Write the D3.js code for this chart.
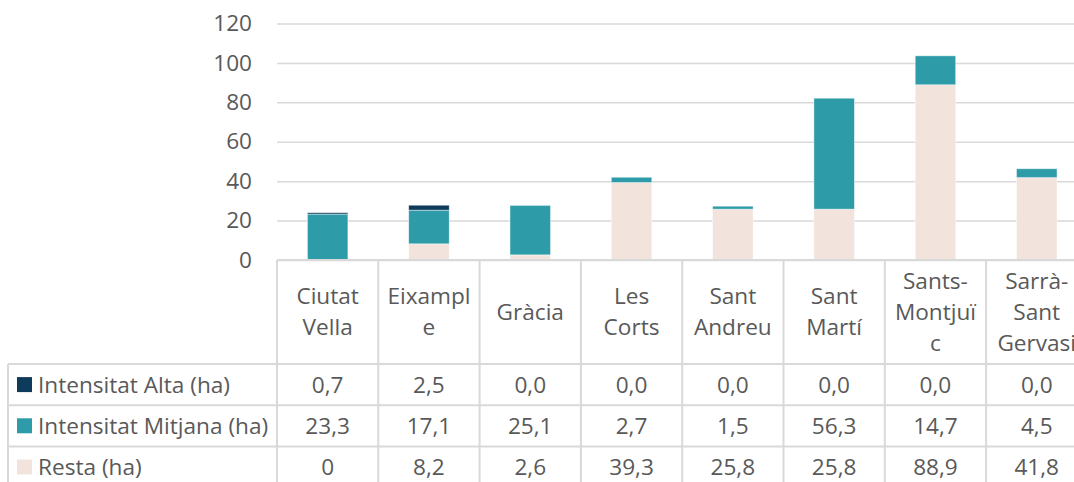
<!DOCTYPE html>
<html>
<head>
    <meta charset="utf-8">
    <script src="https://d3js.org/d3.v7.min.js"></script>
    <style type="text/css">
        body { margin: 0; background: white; }
        svg { display: block; }
        text { font-family: "Open Sans", "Noto Sans", sans-serif; fill: #595959; }
    </style>
</head>
<body>
    <script type="text/javascript">

        // categories (districtes) and wrapped header labels as they appear in the data table
        var categories = ["Ciutat Vella", "Eixample", "Gràcia", "Les Corts", "Sant Andreu",
                          "Sant Martí", "Sants-Montjuïc", "Sarrà-Sant Gervasi"];
        var headerLines = [["Ciutat", "Vella"], ["Eixampl", "e"], ["Gràcia"], ["Les", "Corts"],
                           ["Sant", "Andreu"], ["Sant", "Martí"], ["Sants-", "Montjuï", "c"],
                           ["Sarrà-", "Sant", "Gervasi"]];

        // series
        var seriesNames = ["Intensitat Alta (ha)", "Intensitat Mitjana (ha)", "Resta (ha)"];
        var alta    = [0.7, 2.5, 0.0, 0.0, 0.0, 0.0, 0.0, 0.0];
        var mitjana = [23.3, 17.1, 25.1, 2.7, 1.5, 56.3, 14.7, 4.5];
        var resta   = [0, 8.2, 2.6, 39.3, 25.8, 25.8, 88.9, 41.8];

        // labels shown in the data table
        var altaLabels    = ["0,7", "2,5", "0,0", "0,0", "0,0", "0,0", "0,0", "0,0"];
        var mitjanaLabels = ["23,3", "17,1", "25,1", "2,7", "1,5", "56,3", "14,7", "4,5"];
        var restaLabels   = ["0", "8,2", "2,6", "39,3", "25,8", "25,8", "88,9", "41,8"];

        var yTicks = [0, 20, 40, 60, 80, 100, 120];
        var colors = ["#0e3a5b", "#2e9ba8", "#f2e3dc"];

        var w = 1074;
        var h = 482;

        var left = 277;          // start of plot area / table columns
        var cellW = 101.3;       // width of one category column
        var plotBottom = 260;
        var plotTop = 23.5;
        var headerBottom = 364;
        var rowH = 41.2;
        var legendLeft = 8;
        var gridColor = "#d9d9d9";
        var fs = 22.6;

        var svg = d3.select("body")
            .append("svg")
            .attr("width", w)
            .attr("height", h);

        var xScale = d3.scaleBand()
            .domain(categories)
            .range([left, left + cellW * categories.length])
            .paddingInner(0)
            .paddingOuter(0);

        var yScale = d3.scaleLinear()
            .domain([0, 120])
            .range([plotBottom, plotTop]);

        var right = xScale.range()[1];

        // y axis with gridlines
        var yAxis = d3.axisLeft(yScale)
            .tickValues(yTicks)
            .tickFormat(d3.format("d"))
            .tickSize(-(right - left))
            .tickPadding(25);

        var gy = svg.append("g")
            .attr("transform", "translate(" + left + ",0)")
            .call(yAxis);
        gy.select(".domain").remove();
        gy.selectAll(".tick line")
            .attr("stroke", gridColor)
            .attr("stroke-width", 1.5);
        gy.selectAll(".tick text")
            .attr("font-size", fs)
            .attr("fill", "#595959")
            .attr("font-family", "Open Sans");

        // stacked bars: Resta at bottom, then Mitjana, then Alta
        var rows = categories.map(function(c, i) {
            return { cat: c, alta: alta[i], mitjana: mitjana[i], resta: resta[i] };
        });
        var stack = d3.stack().keys(["resta", "mitjana", "alta"]);
        var stacked = stack(rows);
        var colorByKey = { alta: colors[0], mitjana: colors[1], resta: colors[2] };

        var barW = xScale.bandwidth() * 0.4;

        svg.append("g").selectAll("g")
            .data(stacked)
            .enter()
            .append("g")
            .attr("fill", function(d) { return colorByKey[d.key]; })
            .selectAll("rect")
            .data(function(d) { return d; })
            .enter()
            .append("rect")
            .attr("x", function(d) { return xScale(d.data.cat) + (xScale.bandwidth() - barW) / 2; })
            .attr("y", function(d) { return yScale(d[1]); })
            .attr("width", barW)
            .attr("height", function(d) { return Math.max(0, yScale(d[0]) - yScale(d[1])); })
            .attr("stroke", "rgba(255,255,255,0.6)")
            .attr("stroke-width", function(d) { return d[1] - d[0] > 0 ? 0.75 : 0; });

        // ---- data table ----
        var table = svg.append("g");
        var tableBottom = headerBottom + rowH * 3;

        // axis line / top of header
        table.append("line")
            .attr("x1", left).attr("x2", right)
            .attr("y1", plotBottom).attr("y2", plotBottom)
            .attr("stroke", gridColor).attr("stroke-width", 2);

        // vertical lines between columns
        var vx = [left].concat(categories.map(function(c) { return xScale(c) + xScale.bandwidth(); }));
        table.selectAll("line.v")
            .data(vx)
            .enter()
            .append("line")
            .attr("class", "v")
            .attr("x1", function(d) { return d; }).attr("x2", function(d) { return d; })
            .attr("y1", plotBottom).attr("y2", tableBottom)
            .attr("stroke", gridColor).attr("stroke-width", 2);

        // left border of legend column
        table.append("line")
            .attr("x1", legendLeft).attr("x2", legendLeft)
            .attr("y1", headerBottom).attr("y2", tableBottom)
            .attr("stroke", gridColor).attr("stroke-width", 2);

        // horizontal row lines
        var hy = [0, 1, 2, 3].map(function(i) { return headerBottom + rowH * i; });
        table.selectAll("line.h")
            .data(hy)
            .enter()
            .append("line")
            .attr("class", "h")
            .attr("x1", legendLeft).attr("x2", right)
            .attr("y1", function(d) { return d; }).attr("y2", function(d) { return d; })
            .attr("stroke", gridColor).attr("stroke-width", 2);

        // header labels (wrapped)
        var lineH = 31;
        var headerMid = (plotBottom + headerBottom) / 2;
        categories.forEach(function(c, i) {
            var lines = headerLines[i];
            var cx = xScale(c) + xScale.bandwidth() / 2;
            var t = table.append("text")
                .attr("text-anchor", "middle")
                .attr("font-size", fs);
            lines.forEach(function(s, j) {
                t.append("tspan")
                    .attr("x", cx)
                    .attr("y", headerMid + (j - (lines.length - 1) / 2) * lineH)
                    .attr("dy", "0.35em")
                    .text(s);
            });
        });

        // series rows: legend key, name, values
        var tableLabels = [altaLabels, mitjanaLabels, restaLabels];
        seriesNames.forEach(function(name, r) {
            var cy = headerBottom + rowH * r + rowH / 2;
            table.append("rect")
                .attr("x", 17).attr("y", cy - 7.5)
                .attr("width", 15).attr("height", 15)
                .attr("fill", colors[r]);
            table.append("text")
                .attr("x", 38).attr("y", cy)
                .attr("dy", "0.35em")
                .attr("font-size", fs)
                .text(name);
            table.selectAll("text.v" + r)
                .data(tableLabels[r])
                .enter()
                .append("text")
                .attr("class", "v" + r)
                .attr("x", function(d, i) { return xScale(categories[i]) + xScale.bandwidth() / 2; })
                .attr("y", cy)
                .attr("dy", "0.35em")
                .attr("text-anchor", "middle")
                .attr("font-size", fs)
                .text(function(d) { return d; });
        });

    </script>
</body>
</html>
